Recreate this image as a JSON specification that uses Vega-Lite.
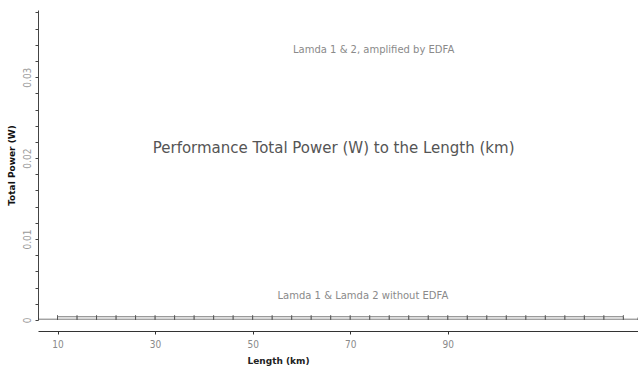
{
  "$schema": "https://vega.github.io/schema/vega-lite/v6.json",
  "width": 600,
  "height": 310,
  "autosize": {"type": "none"},
  "padding": {"left": 38, "top": 10, "right": 0, "bottom": 49},
  "background": "white",
  "config": {
    "view": {"stroke": null},
    "font": "DejaVu Sans"
  },
  "datasets": {
    "lines": [
      {"series": "Lamda 1 without EDFA", "length": 10, "power": 0.0004},
      {"series": "Lamda 1 without EDFA", "length": 14, "power": 0.0004},
      {"series": "Lamda 1 without EDFA", "length": 18, "power": 0.0004},
      {"series": "Lamda 1 without EDFA", "length": 22, "power": 0.0004},
      {"series": "Lamda 1 without EDFA", "length": 26, "power": 0.0004},
      {"series": "Lamda 1 without EDFA", "length": 30, "power": 0.0004},
      {"series": "Lamda 1 without EDFA", "length": 34, "power": 0.0004},
      {"series": "Lamda 1 without EDFA", "length": 38, "power": 0.0004},
      {"series": "Lamda 1 without EDFA", "length": 42, "power": 0.0004},
      {"series": "Lamda 1 without EDFA", "length": 46, "power": 0.0004},
      {"series": "Lamda 1 without EDFA", "length": 50, "power": 0.0004},
      {"series": "Lamda 1 without EDFA", "length": 54, "power": 0.0004},
      {"series": "Lamda 1 without EDFA", "length": 58, "power": 0.0004},
      {"series": "Lamda 1 without EDFA", "length": 62, "power": 0.0004},
      {"series": "Lamda 1 without EDFA", "length": 66, "power": 0.0004},
      {"series": "Lamda 1 without EDFA", "length": 70, "power": 0.0004},
      {"series": "Lamda 1 without EDFA", "length": 74, "power": 0.0004},
      {"series": "Lamda 1 without EDFA", "length": 78, "power": 0.0004},
      {"series": "Lamda 1 without EDFA", "length": 82, "power": 0.0004},
      {"series": "Lamda 1 without EDFA", "length": 86, "power": 0.0004},
      {"series": "Lamda 1 without EDFA", "length": 90, "power": 0.0004},
      {"series": "Lamda 1 without EDFA", "length": 94, "power": 0.0004},
      {"series": "Lamda 1 without EDFA", "length": 98, "power": 0.0004},
      {"series": "Lamda 1 without EDFA", "length": 102, "power": 0.0004},
      {"series": "Lamda 1 without EDFA", "length": 106, "power": 0.0004},
      {"series": "Lamda 1 without EDFA", "length": 110, "power": 0.0004},
      {"series": "Lamda 1 without EDFA", "length": 114, "power": 0.0004},
      {"series": "Lamda 1 without EDFA", "length": 118, "power": 0.0004},
      {"series": "Lamda 1 without EDFA", "length": 122, "power": 0.0004},
      {"series": "Lamda 1 without EDFA", "length": 126, "power": 0.0004},
      {"series": "Lamda 2 without EDFA", "length": 6, "power": 0.0001},
      {"series": "Lamda 2 without EDFA", "length": 10, "power": 0.0001},
      {"series": "Lamda 2 without EDFA", "length": 14, "power": 0.0001},
      {"series": "Lamda 2 without EDFA", "length": 18, "power": 0.0001},
      {"series": "Lamda 2 without EDFA", "length": 22, "power": 0.0001},
      {"series": "Lamda 2 without EDFA", "length": 26, "power": 0.0001},
      {"series": "Lamda 2 without EDFA", "length": 30, "power": 0.0001},
      {"series": "Lamda 2 without EDFA", "length": 34, "power": 0.0001},
      {"series": "Lamda 2 without EDFA", "length": 38, "power": 0.0001},
      {"series": "Lamda 2 without EDFA", "length": 42, "power": 0.0001},
      {"series": "Lamda 2 without EDFA", "length": 46, "power": 0.0001},
      {"series": "Lamda 2 without EDFA", "length": 50, "power": 0.0001},
      {"series": "Lamda 2 without EDFA", "length": 54, "power": 0.0001},
      {"series": "Lamda 2 without EDFA", "length": 58, "power": 0.0001},
      {"series": "Lamda 2 without EDFA", "length": 62, "power": 0.0001},
      {"series": "Lamda 2 without EDFA", "length": 66, "power": 0.0001},
      {"series": "Lamda 2 without EDFA", "length": 70, "power": 0.0001},
      {"series": "Lamda 2 without EDFA", "length": 74, "power": 0.0001},
      {"series": "Lamda 2 without EDFA", "length": 78, "power": 0.0001},
      {"series": "Lamda 2 without EDFA", "length": 82, "power": 0.0001},
      {"series": "Lamda 2 without EDFA", "length": 86, "power": 0.0001},
      {"series": "Lamda 2 without EDFA", "length": 90, "power": 0.0001},
      {"series": "Lamda 2 without EDFA", "length": 94, "power": 0.0001},
      {"series": "Lamda 2 without EDFA", "length": 98, "power": 0.0001},
      {"series": "Lamda 2 without EDFA", "length": 102, "power": 0.0001},
      {"series": "Lamda 2 without EDFA", "length": 106, "power": 0.0001},
      {"series": "Lamda 2 without EDFA", "length": 110, "power": 0.0001},
      {"series": "Lamda 2 without EDFA", "length": 114, "power": 0.0001},
      {"series": "Lamda 2 without EDFA", "length": 118, "power": 0.0001},
      {"series": "Lamda 2 without EDFA", "length": 122, "power": 0.0001},
      {"series": "Lamda 2 without EDFA", "length": 126, "power": 0.0001},
      {"series": "Lamda 2 without EDFA", "length": 129, "power": 0.0001}
    ],
    "notes": [
      {"label": "Lamda 1 & 2, amplified by EDFA", "length": 74.8, "power": 0.0333, "kind": "small"},
      {"label": "Performance Total Power (W) to the Length (km)", "length": 66.6, "power": 0.0212, "kind": "big"},
      {"label": "Lamda 1 & Lamda 2  without EDFA", "length": 72.6, "power": 0.003, "kind": "small"}
    ]
  },
  "layer": [
    {
      "data": {"name": "lines"},
      "mark": {"type": "line", "color": "#555555", "strokeWidth": 0.8, "clip": true},
      "encoding": {
        "x": {
          "field": "length", "type": "quantitative",
          "scale": {"domain": [6, 129], "nice": false, "zero": false},
          "axis": {
            "title": "Length (km)",
            "values": [10, 30, 50, 70, 90],
            "offset": 11,
            "domainColor": "#333333",
            "domainWidth": 1,
            "tickColor": "#333333",
            "tickSize": 3,
            "labelColor": "#8a8a8a",
            "labelFontSize": 10,
            "labelPadding": 5,
            "labelFont": "DejaVu Sans Condensed",
            "grid": false,
            "titleColor": "#222222",
            "titleFontSize": 9,
            "titleFontWeight": "bold",
            "titleX": 240,
            "titlePadding": 7
          }
        },
        "y": {
          "field": "power", "type": "quantitative",
          "scale": {"domain": [0, 0.0383], "nice": false},
          "axis": {
            "title": "Total Power (W)",
            "values": [0, 0.002, 0.004, 0.006, 0.008, 0.01, 0.012, 0.014, 0.016, 0.018, 0.02, 0.022, 0.024, 0.026, 0.028, 0.03, 0.032, 0.034, 0.036, 0.038],
            "tickCount": 40,
            "labelExpr": "datum.value == 0 ? '0' : (abs(round(datum.value*100) - datum.value*100) < 0.001 ? format(datum.value, '.2f') : '')",
            "labelOverlap": false,
            "labelAngle": 270,
            "labelAlign": "center",
            "labelBaseline": "bottom",
            "labelPadding": 3,
            "labelColor": "#9a9a9a",
            "labelFontSize": 10,
            "labelFont": "DejaVu Sans Condensed",
            "domainColor": "#444444",
            "domainWidth": 1,
            "tickColor": "#444444",
            "tickSize": 3,
            "grid": false,
            "titleColor": "#111111",
            "titleFontSize": 9,
            "titleFontWeight": "bold",
            "titlePadding": 6
          }
        },
        "detail": {"field": "series"}
      }
    },
    {
      "data": {"name": "lines"},
      "mark": {"type": "point", "shape": "M0,-1V1", "size": 12, "stroke": "#333333", "strokeWidth": 1, "filled": false, "clip": true},
      "encoding": {
        "x": {"field": "length", "type": "quantitative"},
        "y": {"field": "power", "type": "quantitative"}
      }
    },
    {
      "data": {"name": "notes"},
      "transform": [{"filter": "datum.kind == 'small'"}],
      "mark": {"type": "text", "fontSize": 10, "color": "#8a8a8a", "font": "DejaVu Sans"},
      "encoding": {
        "x": {"field": "length", "type": "quantitative"},
        "y": {"field": "power", "type": "quantitative"},
        "text": {"field": "label"}
      }
    },
    {
      "data": {"name": "notes"},
      "transform": [{"filter": "datum.kind == 'big'"}],
      "mark": {"type": "text", "fontSize": 15, "color": "#555555", "font": "DejaVu Sans"},
      "encoding": {
        "x": {"field": "length", "type": "quantitative"},
        "y": {"field": "power", "type": "quantitative"},
        "text": {"field": "label"}
      }
    }
  ]
}
